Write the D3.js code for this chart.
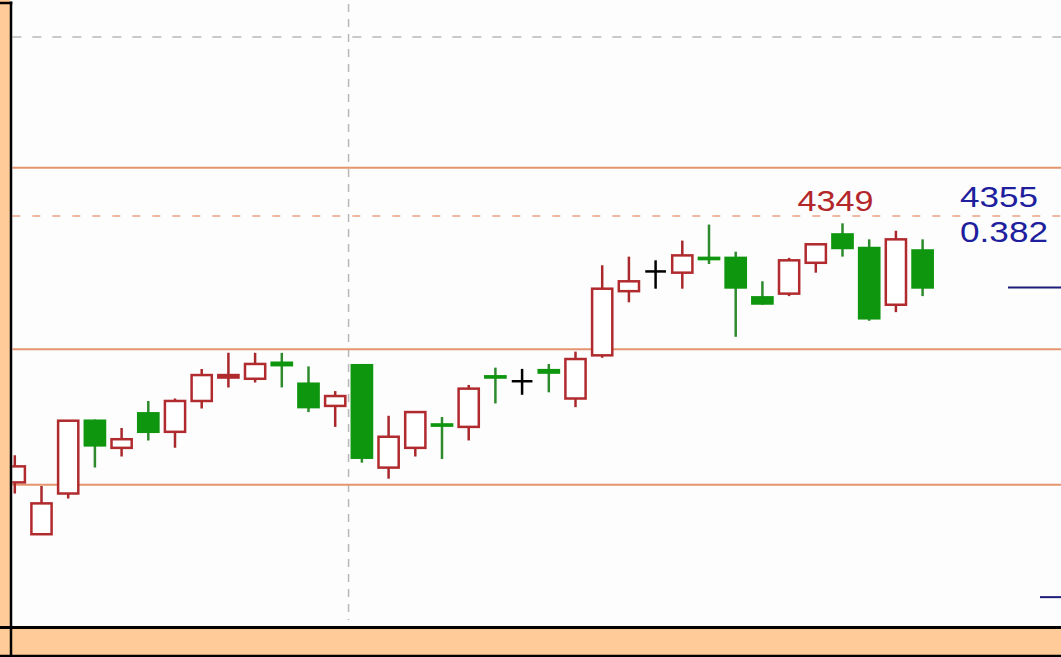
<!DOCTYPE html>
<html>
<head>
<meta charset="utf-8">
<script src="https://cdn.jsdelivr.net/npm/d3@7"></script>
<style>
    html, body { margin: 0; padding: 0; background: #fff; overflow: hidden; }
    #chart { width: 1061px; height: 657px; }
    .label { font-family: "Liberation Sans", Arial, sans-serif; }
</style>
</head>
<body>
<div id="chart"></div>
<script>

// candle data (one entry per session, left to right)
let days   = d3.range(35);
let opens  = [4139, 4097, 4130, 4190, 4167, 4196, 4180, 4205, 4224, 4223, 4237, 4220, 4201, 4235, 4151, 4167, 4187, 4184,
              4226, 4221, 4231, 4207, 4242, 4294, 4310, 4309, 4322, 4322, 4290, 4292, 4317, 4341, 4330, 4283, 4328];
let highs  = [4161, 4136, 4189, 4190, 4183, 4205, 4207, 4231, 4244, 4244, 4244, 4233, 4213, 4235, 4193, 4196, 4192, 4218,
              4232, 4231, 4235, 4245, 4315, 4322, 4319, 4335, 4348, 4326, 4302, 4321, 4332, 4349, 4336, 4343, 4336];
let lows   = [4130, 4097, 4126, 4151, 4160, 4173, 4167, 4199, 4216, 4220, 4216, 4196, 4184, 4155, 4142, 4160, 4158, 4173,
              4203, 4210, 4212, 4200, 4240, 4285, 4296, 4296, 4316, 4257, 4283, 4290, 4309, 4322, 4270, 4277, 4290];
let closes = [4152, 4122, 4189, 4168, 4174, 4179, 4205, 4226, 4226, 4235, 4233, 4199, 4209, 4158, 4176, 4196, 4184, 4215,
              4223, 4221, 4227, 4239, 4296, 4302, 4310, 4323, 4319, 4296, 4283, 4319, 4332, 4328, 4271, 4336, 4296];

// horizontal levels
let solidLevels = [4394, 4247, 4137];
let dashedLevel = 4355;
let gridLevels = [4500];
let monthBreak = 12.5;          // between session 12 and 13
let blueMarks = [{price: 4297, from: 1008}, {price: 4046, from: 1040}];

// labels
let highLabel = {text: "4349", day: 31, price: 4349};
let fibLabels = ["4355", "0.382"];


class CandleVis {

    constructor(parentElement){
        this.parentElement = parentElement;
        this.initVis();
    }

    initVis(){
        let vis = this;

        vis.width = 1061;
        vis.height = 657;
        vis.plot = {left: 12.3, right: 1061, top: 0, bottom: 626};

        vis.svg = d3.select("#" + vis.parentElement).append("svg")
            .attr("width", vis.width)
            .attr("height", vis.height);

        // background
        vis.svg.append("rect")
            .attr("width", vis.width).attr("height", vis.height)
            .attr("fill", "#fdfdfd");

        vis.svg.append("clipPath").attr("id", "plotClip")
            .append("rect")
            .attr("x", vis.plot.left).attr("y", vis.plot.top)
            .attr("width", vis.plot.right - vis.plot.left)
            .attr("height", vis.plot.bottom - vis.plot.top);

        // scales
        vis.x = d3.scaleBand()
            .domain(days)
            .range([1.45, 1.45 + 26.7 * days.length])
            .padding(0);
        vis.y = d3.scaleLinear()
            .domain([4021.8, 4530])
            .range([627, 0]);

        vis.plotG = vis.svg.append("g").attr("clip-path", "url(#plotClip)");

        this.wrangleData();
    }

    wrangleData(){
        let vis = this;

        vis.displayData = days.map((d, i) => ({
            day: d,
            open: opens[i],
            high: highs[i],
            low: lows[i],
            close: closes[i],
            dir: closes[i] > opens[i] ? "up" : (closes[i] < opens[i] ? "down" : "flat")
        }));

        vis.updateVis();
    }

    updateVis(){
        let vis = this;
        let g = vis.plotG;
        let cx = d => vis.x(d) + vis.x.bandwidth() / 2;
        let bodyW = vis.x.bandwidth() * 0.85;

        // gray grid
        g.selectAll(".grid-h")
            .data(gridLevels)
            .enter().append("line")
            .attr("class", "grid-h")
            .attr("x1", vis.plot.left).attr("x2", vis.plot.right)
            .attr("y1", d => vis.y(d)).attr("y2", d => vis.y(d))
            .attr("stroke", "#b8b8b8").attr("stroke-width", 1.5)
            .attr("stroke-dasharray", "9,11");

        let breakX = vis.x(Math.floor(monthBreak)) + vis.x.step();
        g.append("line")
            .attr("x1", breakX).attr("x2", breakX)
            .attr("y1", vis.plot.top + 4).attr("y2", vis.plot.bottom - 6)
            .attr("stroke", "#b8b8b8").attr("stroke-width", 1.5)
            .attr("stroke-dasharray", "8,7");

        // orange levels
        g.selectAll(".level")
            .data(solidLevels)
            .enter().append("line")
            .attr("class", "level")
            .attr("x1", vis.plot.left).attr("x2", vis.plot.right)
            .attr("y1", d => vis.y(d)).attr("y2", d => vis.y(d))
            .attr("stroke", "#e4946e").attr("stroke-width", 2);

        g.append("line")
            .attr("x1", vis.plot.left).attr("x2", vis.plot.right)
            .attr("y1", vis.y(dashedLevel)).attr("y2", vis.y(dashedLevel))
            .attr("stroke", "#e8a482").attr("stroke-width", 1.5)
            .attr("stroke-dasharray", "8,12");

        // blue marks at the right edge
        g.selectAll(".blue-mark")
            .data(blueMarks)
            .enter().append("line")
            .attr("class", "blue-mark")
            .attr("x1", d => d.from).attr("x2", vis.plot.right)
            .attr("y1", d => vis.y(d.price)).attr("y2", d => vis.y(d.price))
            .attr("stroke", "#1c1c7a").attr("stroke-width", 2);

        // candles
        let colors = {up: "#b02a2e", down: "#0e960e", flat: "#000"};
        let wickColors = {up: "#a8282c", down: "#2d8a2d", flat: "#000"};

        let candles = g.selectAll(".candle")
            .data(vis.displayData)
            .enter().append("g")
            .attr("class", "candle");

        candles.append("line")
            .attr("x1", d => cx(d.day)).attr("x2", d => cx(d.day))
            .attr("y1", d => vis.y(d.high)).attr("y2", d => vis.y(d.low))
            .attr("stroke", d => wickColors[d.dir])
            .attr("stroke-width", 2.5);

        candles.filter(d => d.dir === "up").append("rect")
            .attr("x", d => cx(d.day) - bodyW / 2 + 1.25)
            .attr("y", d => vis.y(d.close))
            .attr("width", bodyW - 2.5)
            .attr("height", d => Math.max(1, vis.y(d.open) - vis.y(d.close)))
            .attr("fill", "#fff")
            .attr("stroke", colors.up)
            .attr("stroke-width", 2.5);

        candles.filter(d => d.dir === "down").append("rect")
            .attr("x", d => cx(d.day) - bodyW / 2)
            .attr("y", d => vis.y(d.open))
            .attr("width", bodyW)
            .attr("height", d => Math.max(2.5, vis.y(d.close) - vis.y(d.open)))
            .attr("fill", colors.down);

        candles.filter(d => d.dir === "flat").append("line")
            .attr("x1", d => cx(d.day) - bodyW / 2 + 1).attr("x2", d => cx(d.day) + bodyW / 2 - 1)
            .attr("y1", d => vis.y(d.open)).attr("y2", d => vis.y(d.open))
            .attr("stroke", colors.flat)
            .attr("stroke-width", 2.5);

        // labels
        vis.svg.append("text")
            .attr("class", "label")
            .attr("x", cx(highLabel.day) - 45)
            .attr("y", vis.y(highLabel.price) - 12)
            .attr("font-size", 29)
            .attr("textLength", 76).attr("lengthAdjust", "spacingAndGlyphs")
            .attr("fill", "#b3262a")
            .text(highLabel.text);

        vis.svg.selectAll(".fib-label")
            .data(fibLabels)
            .enter().append("text")
            .attr("class", "label fib-label")
            .attr("x", 960)
            .attr("y", (d, i) => vis.y(dashedLevel) - 8.5 + i * 35)
            .attr("font-size", 30)
            .attr("textLength", (d, i) => i === 0 ? 78 : 88).attr("lengthAdjust", "spacingAndGlyphs")
            .attr("fill", "#1f1f9e")
            .text(d => d);

        // frame: orange axis bands with black borders
        vis.svg.append("rect")
            .attr("x", 0).attr("y", 0).attr("width", 10).attr("height", vis.height)
            .attr("fill", "#ffcc99");
        vis.svg.append("rect")
            .attr("x", 0).attr("y", 628).attr("width", vis.width).attr("height", 29)
            .attr("fill", "#ffcc99");

        let border = [
            {x1: 11, y1: 1.5, x2: 11, y2: vis.height, w: 2.5},
            {x1: 0, y1: 3, x2: 12.3, y2: 3, w: 2.5},
            {x1: 0, y1: 627.5, x2: vis.width, y2: 627.5, w: 3},
            {x1: 0, y1: 656, x2: vis.width, y2: 656, w: 2.5}
        ];
        vis.svg.selectAll(".border")
            .data(border)
            .enter().append("line")
            .attr("class", "border")
            .attr("x1", d => d.x1).attr("y1", d => d.y1)
            .attr("x2", d => d.x2).attr("y2", d => d.y2)
            .attr("stroke", "#000")
            .attr("stroke-width", d => d.w);
    }
}

new CandleVis("chart");
</script>
</body>
</html>
